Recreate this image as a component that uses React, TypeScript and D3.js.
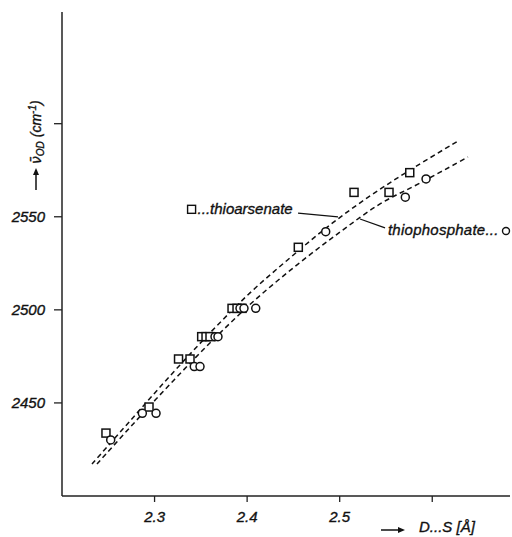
import React from 'react';
import * as d3 from 'd3';

// measured points, D...S distance (Å) vs wavenumber (cm-1)
const arsenateX = [2.2475, 2.294, 2.3259, 2.3383, 2.3509, 2.3556, 2.3599, 2.3837, 2.3891, 2.3945, 2.4553, 2.5155, 2.5533, 2.5757];
const arsenateY = [2433.8, 2447.8, 2473.6, 2473.6, 2485.6, 2485.6, 2485.6, 2500.8, 2500.8, 2500.8, 2533.6, 2563.1, 2563.1, 2573.7];

const phosphateX = [2.2526, 2.2868, 2.3016, 2.3429, 2.3491, 2.3653, 2.3685, 2.3923, 2.3966, 2.4093, 2.4849, 2.5709, 2.5933];
const phosphateY = [2430.1, 2444.4, 2444.4, 2469.5, 2469.5, 2485.6, 2485.6, 2500.8, 2500.8, 2500.8, 2542.0, 2560.5, 2570.3];

// dashed fitted curves
const arsenateCurveX = [2.2324, 2.2735, 2.3167, 2.3599, 2.4031, 2.4463, 2.4895, 2.5328, 2.576, 2.6278];
const arsenateCurveY = [2417.2, 2440.3, 2464.5, 2487.6, 2509.1, 2527.9, 2545.6, 2561.2, 2575.1, 2590.7];
const phosphateCurveX = [2.2378, 2.2789, 2.3221, 2.3653, 2.4085, 2.455, 2.5004, 2.5436, 2.5868, 2.6386];
const phosphateCurveY = [2417.2, 2439.8, 2462.9, 2484.9, 2505.3, 2524.6, 2541.8, 2556.9, 2568.1, 2582.1];

const xTicks = [2.3, 2.4, 2.5, 2.6];
const xTickLabels = ['2.3', '2.4', '2.5', ''];
const yTicks = [2450, 2500, 2550, 2600];
const yTickLabels = ['2450', '2500', '2550', ''];

const W = 512;
const H = 537;
const font = '"Liberation Sans", "DejaVu Sans", sans-serif';

export default function App() {
  const x = d3.scaleLinear().domain([2.2, 2.684]).range([62, 510]);
  const y = d3.scaleLinear().domain([2400, 2660]).range([496, 12]);

  const line = d3
    .line<[number, number]>()
    .x((d) => x(d[0]))
    .y((d) => y(d[1]))
    .curve(d3.curveCatmullRom);

  const upper = line(arsenateCurveX.map((v, i) => [v, arsenateCurveY[i]]) as [number, number][]);
  const lower = line(phosphateCurveX.map((v, i) => [v, phosphateCurveY[i]]) as [number, number][]);

  const sq = 8;
  const txt = { fontFamily: font, fontStyle: 'italic', fill: '#111', stroke: '#111', strokeWidth: 0.35 } as const;

  return (
    <svg width={W} height={H} style={{ position: 'absolute', left: 0, top: 0, background: '#fff' }}>
      {/* axes */}
      <line x1={x(2.2)} y1={y(2660)} x2={x(2.2)} y2={y(2400)} stroke="#222" strokeWidth={1.5} />
      <line x1={x(2.2)} y1={y(2400)} x2={x(2.684)} y2={y(2400)} stroke="#222" strokeWidth={1.5} />

      {yTicks.map((t, i) => (
        <g key={'y' + t}>
          <line x1={x(2.2) - 8} x2={x(2.2)} y1={y(t)} y2={y(t)} stroke="#222" strokeWidth={1.3} />
          <text x={x(2.2) - 17} y={y(t) + 5} textAnchor="end" fontSize={15} {...txt}>
            {yTickLabels[i]}
          </text>
        </g>
      ))}

      {xTicks.map((t, i) => (
        <g key={'x' + t}>
          <line x1={x(t)} x2={x(t)} y1={y(2400)} y2={y(2400) + 6} stroke="#222" strokeWidth={1.3} />
          <text x={x(t)} y={y(2400) + 26} textAnchor="middle" fontSize={15} {...txt}>
            {xTickLabels[i]}
          </text>
        </g>
      ))}

      {/* axis titles */}
      <line x1={381} y1={530} x2={400} y2={530} stroke="#111" strokeWidth={1.5} />
      <path d="M398,527 L405,530 L398,533 Z" fill="#111" />
      <text x={419} y={532} fontSize={15} {...txt}>
        D...S [Å]
      </text>

      <line x1={36} y1={190} x2={36} y2={173} stroke="#111" strokeWidth={1.5} />
      <path d="M33,175 L36,168 L39,175 Z" fill="#111" />
      <text transform="translate(41,164) rotate(-90)" fontSize={14} {...txt}>
        <tspan fontFamily='"DejaVu Sans", sans-serif'>ν̄</tspan>
        <tspan fontSize={10} dy={3}>OD</tspan>
        <tspan dy={-3}> (cm</tspan>
        <tspan fontSize={10} dy={-5}>-1</tspan>
        <tspan dy={5}>)</tspan>
      </text>

      {/* fitted curves */}
      <path d={upper ?? ''} fill="none" stroke="#111" strokeWidth={1.5} strokeDasharray="5,3.5" />
      <path d={lower ?? ''} fill="none" stroke="#111" strokeWidth={1.5} strokeDasharray="5,3.5" />

      {/* data points */}
      {arsenateX.map((v, i) => (
        <rect
          key={'a' + i}
          x={x(v) - sq / 2}
          y={y(arsenateY[i]) - sq / 2}
          width={sq}
          height={sq}
          fill="#fff"
          stroke="#111"
          strokeWidth={1.5}
        />
      ))}
      {phosphateX.map((v, i) => (
        <circle key={'p' + i} cx={x(v)} cy={y(phosphateY[i])} r={4} fill="#fff" stroke="#111" strokeWidth={1.5} />
      ))}

      {/* annotations */}
      <rect x={x(2.34) - 4} y={y(2554) - 4} width={8} height={8} fill="none" stroke="#111" strokeWidth={1.4} />
      <text x={x(2.34) + 6} y={y(2554) + 5} fontSize={15} {...txt}>
        ...thioarsenate
      </text>
      <line x1={x(2.455)} y1={y(2552)} x2={x(2.4982)} y2={y(2549.9)} stroke="#111" strokeWidth={1.3} />

      <line x1={x(2.549)} y1={y(2544)} x2={x(2.522)} y2={y(2548.8)} stroke="#111" strokeWidth={1.3} />
      <text x={x(2.55) + 2} y={y(2544) + 7} fontSize={15} letterSpacing={0.25} {...txt}>
        thiophosphate...
      </text>
      <circle cx={506} cy={y(2544) + 3} r={3.5} fill="none" stroke="#111" strokeWidth={1.4} />
    </svg>
  );
}
